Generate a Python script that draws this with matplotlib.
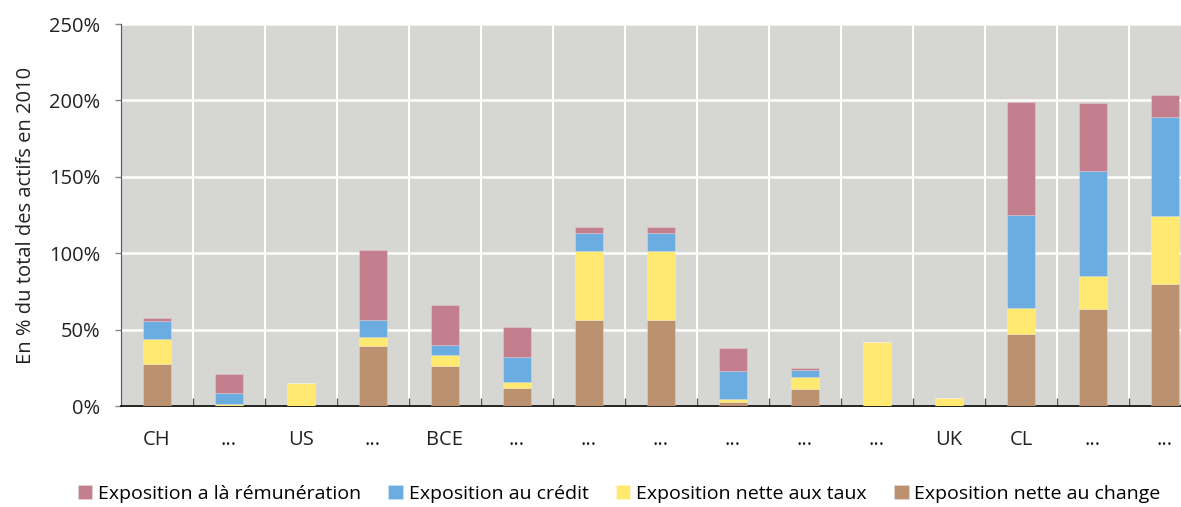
import matplotlib.pyplot as plt
import numpy as np

# Données (en % du total des actifs)
categories = ['CH', '...', 'US', '...', 'BCE', '...', '...', '...', '...', '...', '...', 'UK', 'CL', '...', '...']
change = [27.5, 0, 0, 39.3, 26.2, 11.8, 56.1, 56.1, 2.8, 11.1, 0, 0, 46.9, 63.7, 80.0]
taux = [16.3, 1.3, 15.0, 5.9, 7.2, 3.9, 45.3, 45.3, 2.0, 7.9, 41.7, 5.0, 17.0, 21.4, 44.1]
credit = [12.0, 7.0, 0, 11.3, 6.5, 16.6, 11.6, 11.6, 18.3, 4.6, 0, 0, 61.1, 68.7, 64.8]
remuneration = [1.6, 12.4, 0, 45.4, 26.4, 19.2, 4.1, 4.1, 14.7, 1.1, 0, 0, 73.7, 44.3, 14.8]

series = [
    ('Exposition a là rémunération', remuneration, '#c47f8f'),
    ('Exposition au crédit', credit, '#6badE0'),
    ('Exposition nette aux taux', taux, '#ffe970'),
    ('Exposition nette au change', change, '#bc9170'),
]

plt.rcParams['font.family'] = ['Open Sans', 'DejaVu Sans']
fs = 14.5

fig = plt.figure(figsize=(11.81, 5.07), dpi=100)
ax = fig.add_axes([121 / 1181, 1 - 406 / 507, 1080 / 1181, 382 / 507])
ax.set_facecolor('#d6d6d2')

x = np.arange(len(categories))
width = 0.4

# Empilement : change, taux, crédit, rémunération
bottom = np.zeros(len(categories))
handles = {}
for nom, valeurs, couleur in reversed(series):
    v = np.array(valeurs)
    b = ax.bar(x, v, width, bottom=bottom, color=couleur, zorder=3,
               edgecolor=(1, 1, 1, 0.25), linewidth=0.6, label=nom)
    handles[nom] = b
    bottom += v

ax.set_xlim(-0.5, len(categories) - 0.5)
ax.set_ylim(0, 250)
ax.set_yticks(np.arange(0, 251, 50))
ax.set_yticklabels([f'{t}%' for t in range(0, 251, 50)], fontsize=fs, color='#222222')
ax.set_xticks(x)
ax.set_xticklabels(categories, fontsize=fs, color='#222222')
ax.tick_params(axis='x', which='major', length=0, pad=17)
ax.set_xticks(np.arange(0.5, len(categories) - 0.5, 1), minor=True)
ax.tick_params(axis='x', which='minor', length=6, width=1, color='#555555', direction='in')
ax.tick_params(axis='y', length=4, width=1, color='#888888', pad=11)

ax.grid(axis='y', which='major', color='white', linewidth=1.8, zorder=1)
ax.grid(axis='x', which='minor', color='white', linewidth=1.5, zorder=1)
ax.set_axisbelow(True)

for s in ['top', 'right']:
    ax.spines[s].set_visible(False)
ax.spines['left'].set_color('#555555')
ax.spines['bottom'].set_color('black')
ax.spines['bottom'].set_linewidth(1.2)

ax.set_ylabel('En % du total des actifs en 2010', fontsize=fs, color='#222222', labelpad=9)

fig.legend([handles[n] for n, _, _ in series], [n for n, _, _ in series],
           loc='center left', bbox_to_anchor=(60 / 1181, 1 - 494 / 507),
           ncol=4, frameon=False, fontsize=14, handlelength=0.75, handleheight=0.75,
           handletextpad=0.3, columnspacing=1.4)

fig.savefig('out.png', dpi=100)
